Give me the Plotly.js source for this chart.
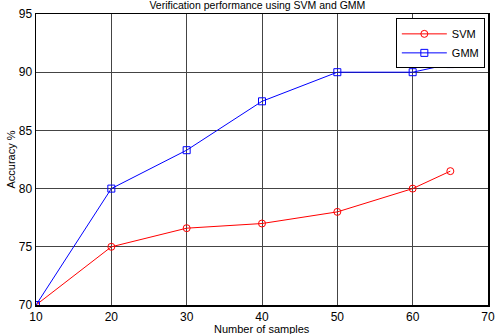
<!DOCTYPE html>
<html><head><meta charset="utf-8">
<script src="https://cdn.plot.ly/plotly-3.0.1.min.js"></script>
<style>body{margin:0;padding:0;background:#fff;}#chart{width:495px;height:334px;}</style>
</head><body><div id="chart"></div>
<script>
const samples = [10, 20, 30, 40, 50, 60, 65];
const svmAcc = [70, 75, 76.6, 77, 78, 80, 81.5];
const gmmAcc = [70, 80, 83.3, 87.5, 90, 90, 90.7];
const xTicks = [10, 20, 30, 40, 50, 60, 70];
const yTicks = [70, 75, 80, 85, 90, 95];

const font = {family: 'Liberation Sans, Arial, sans-serif', size: 12, color: '#000'};
const smallFont = {family: font.family, size: 11, color: '#000'};
const traces = [
  {x: samples, y: svmAcc, name: 'SVM', mode: 'lines+markers', type: 'scatter',
   line: {color: '#ff0000', width: 1}, marker: {symbol: 'circle-open', size: 7, color: '#ff0000', line: {width: 1}}},
  {x: samples, y: gmmAcc, name: 'GMM', mode: 'lines+markers', type: 'scatter',
   line: {color: '#0000ff', width: 1}, marker: {symbol: 'square-open', size: 7, color: '#0000ff', line: {width: 1}}}
];
const layout = {
  width: 495, height: 334,
  margin: {l: 36, r: 7, t: 14, b: 29},
  paper_bgcolor: '#fff', plot_bgcolor: '#fff',
  font: font,
  title: {text: 'Verification performance using SVM and GMM', font: {family: font.family, size: 10.5, color: '#000'}, x: 0.52, xanchor: 'center', yref: 'container', y: 0.994, yanchor: 'top', pad: {t: 0, b: 0}},
  xaxis: {range: [10, 70], tickvals: xTicks, ticktext: xTicks.map(String), showgrid: true, gridcolor: '#444', gridwidth: 1,
    showline: true, linecolor: '#000', linewidth: 1.5, mirror: true, zeroline: false, ticks: '', tickfont: font},
  yaxis: {range: [70, 95], tickvals: yTicks, ticktext: yTicks.map(String), showgrid: true, gridcolor: '#444', gridwidth: 1,
    showline: true, linecolor: '#000', linewidth: 1.5, mirror: true, zeroline: false, ticks: '', tickfont: font,
    title: {text: 'Accuracy %', font: smallFont, standoff: 1}},
  annotations: [{text: 'Number of samples', font: smallFont, xref: 'paper', yref: 'paper', x: 0.5, y: -0.083,
    xanchor: 'center', yanchor: 'middle', showarrow: false}],
  legend: {x: 0.993, xanchor: 'right', y: 0.985, yanchor: 'top', bgcolor: '#fff', bordercolor: '#000', borderwidth: 1,
    font: smallFont, tracegroupgap: 0, itemwidth: 45},
  showlegend: true
};
Plotly.newPlot('chart', traces, layout, {displayModeBar: false, staticPlot: true});
</script></body></html>
